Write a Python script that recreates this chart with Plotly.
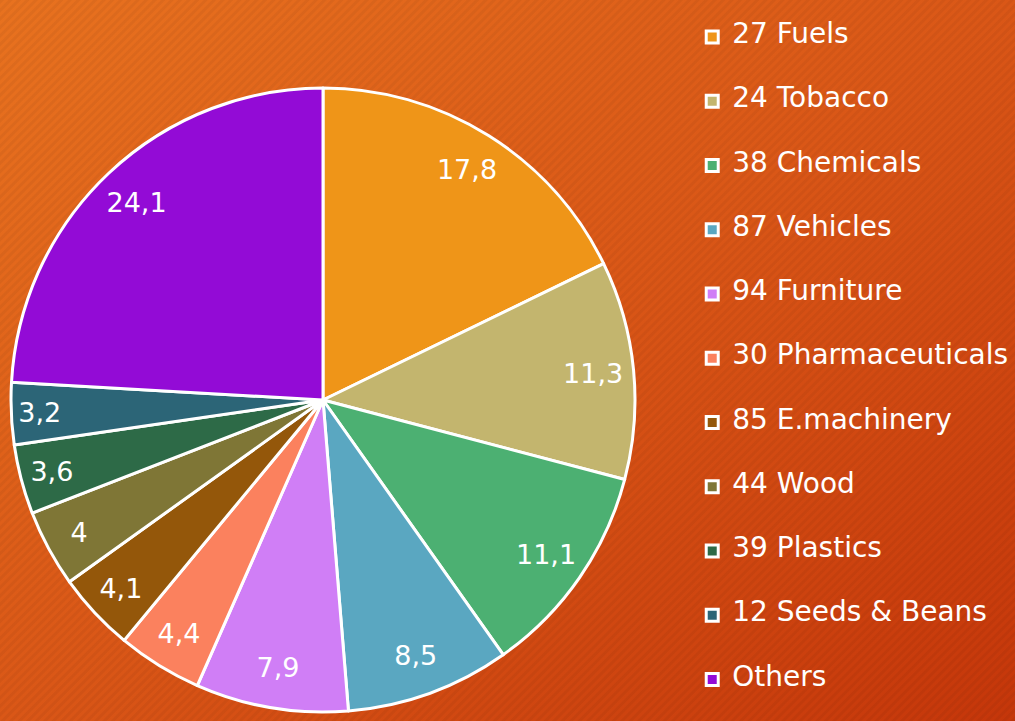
import base64
import plotly.graph_objects as go

# ---- data ----
categories = ["27 Fuels", "24 Tobacco", "38 Chemicals", "87 Vehicles", "94 Furniture",
              "30 Pharmaceuticals", "85 E.machinery", "44 Wood", "39 Plastics",
              "12 Seeds & Beans", "Others"]
shares = [17.8, 11.3, 11.1, 8.5, 7.9, 4.4, 4.1, 4.0, 3.6, 3.2, 24.1]
colors = ["#EF9518", "#C3B56E", "#4CB072", "#5AA7C1", "#D07EF6", "#FB815E",
          "#94570A", "#7F7636", "#2D6A47", "#2C6577", "#930BD6"]

# legend labels: the category in large type, padded to space out entries
legend_labels = ["<br><span style='font-size:28px'>%s</span><br>" % c.replace("&", "&amp;")
                 for c in categories]

# ---- background (gradient + diagonal stripes) ----
svg = """<svg xmlns='http://www.w3.org/2000/svg' width='1015' height='721'>
<defs>
<linearGradient id='g' x1='0' y1='0' x2='1' y2='1'>
<stop offset='0' stop-color='#E8721F'/>
<stop offset='0.5' stop-color='#DA5717'/>
<stop offset='1' stop-color='#C5360A'/>
</linearGradient>
<pattern id='p' width='6' height='6' patternUnits='userSpaceOnUse' patternTransform='rotate(45)'>
<rect width='3' height='6' fill='#000' fill-opacity='0.045'/>
</pattern>
</defs>
<rect width='100%' height='100%' fill='url(#g)'/>
<rect width='100%' height='100%' fill='url(#p)'/>
</svg>"""
bg = "data:image/svg+xml;base64," + base64.b64encode(svg.encode()).decode()

W, H = 1015, 721
pie_domain = dict(x=[10 / W, 636 / W], y=[9 / H, 633 / H])

fig = go.Figure()
# coloured slices
fig.add_trace(go.Pie(
    labels=legend_labels,
    values=shares,
    sort=False,
    direction="clockwise",
    rotation=0,
    marker=dict(colors=colors, line=dict(color="white", width=3)),
    textinfo="none",
    domain=pie_domain,
    hoverinfo="value",
))
# transparent outer ring carrying the value labels near the rim
fig.add_trace(go.Pie(
    labels=categories,
    values=shares,
    sort=False,
    direction="clockwise",
    rotation=0,
    hole=0.74,
    marker=dict(colors=["rgba(0,0,0,0)"] * len(shares), line=dict(width=0)),
    textinfo="value",
    textposition="inside",
    insidetextorientation="horizontal",
    textfont=dict(family="DejaVu Sans", size=27, color="white"),
    domain=pie_domain,
    showlegend=False,
    hoverinfo="skip",
))

fig.update_layout(
    width=W, height=H,
    margin=dict(l=0, r=0, t=0, b=0, autoexpand=False),
    separators=", ",
    paper_bgcolor="#D9561A",
    plot_bgcolor="rgba(0,0,0,0)",
    images=[dict(source=bg, xref="paper", yref="paper", x=0, y=1,
                 sizex=1, sizey=1, sizing="stretch", layer="below",
                 xanchor="left", yanchor="top")],
    legend=dict(
        x=0.682, xanchor="left", y=1.0, yanchor="top",
        font=dict(family="DejaVu Sans", size=15.7, color="white"),
        bgcolor="rgba(0,0,0,0)",
        borderwidth=0,
    ),
    showlegend=True,
)

fig.write_html("out.html", config={"displayModeBar": False},
               post_script="document.body.style.margin='0';")
